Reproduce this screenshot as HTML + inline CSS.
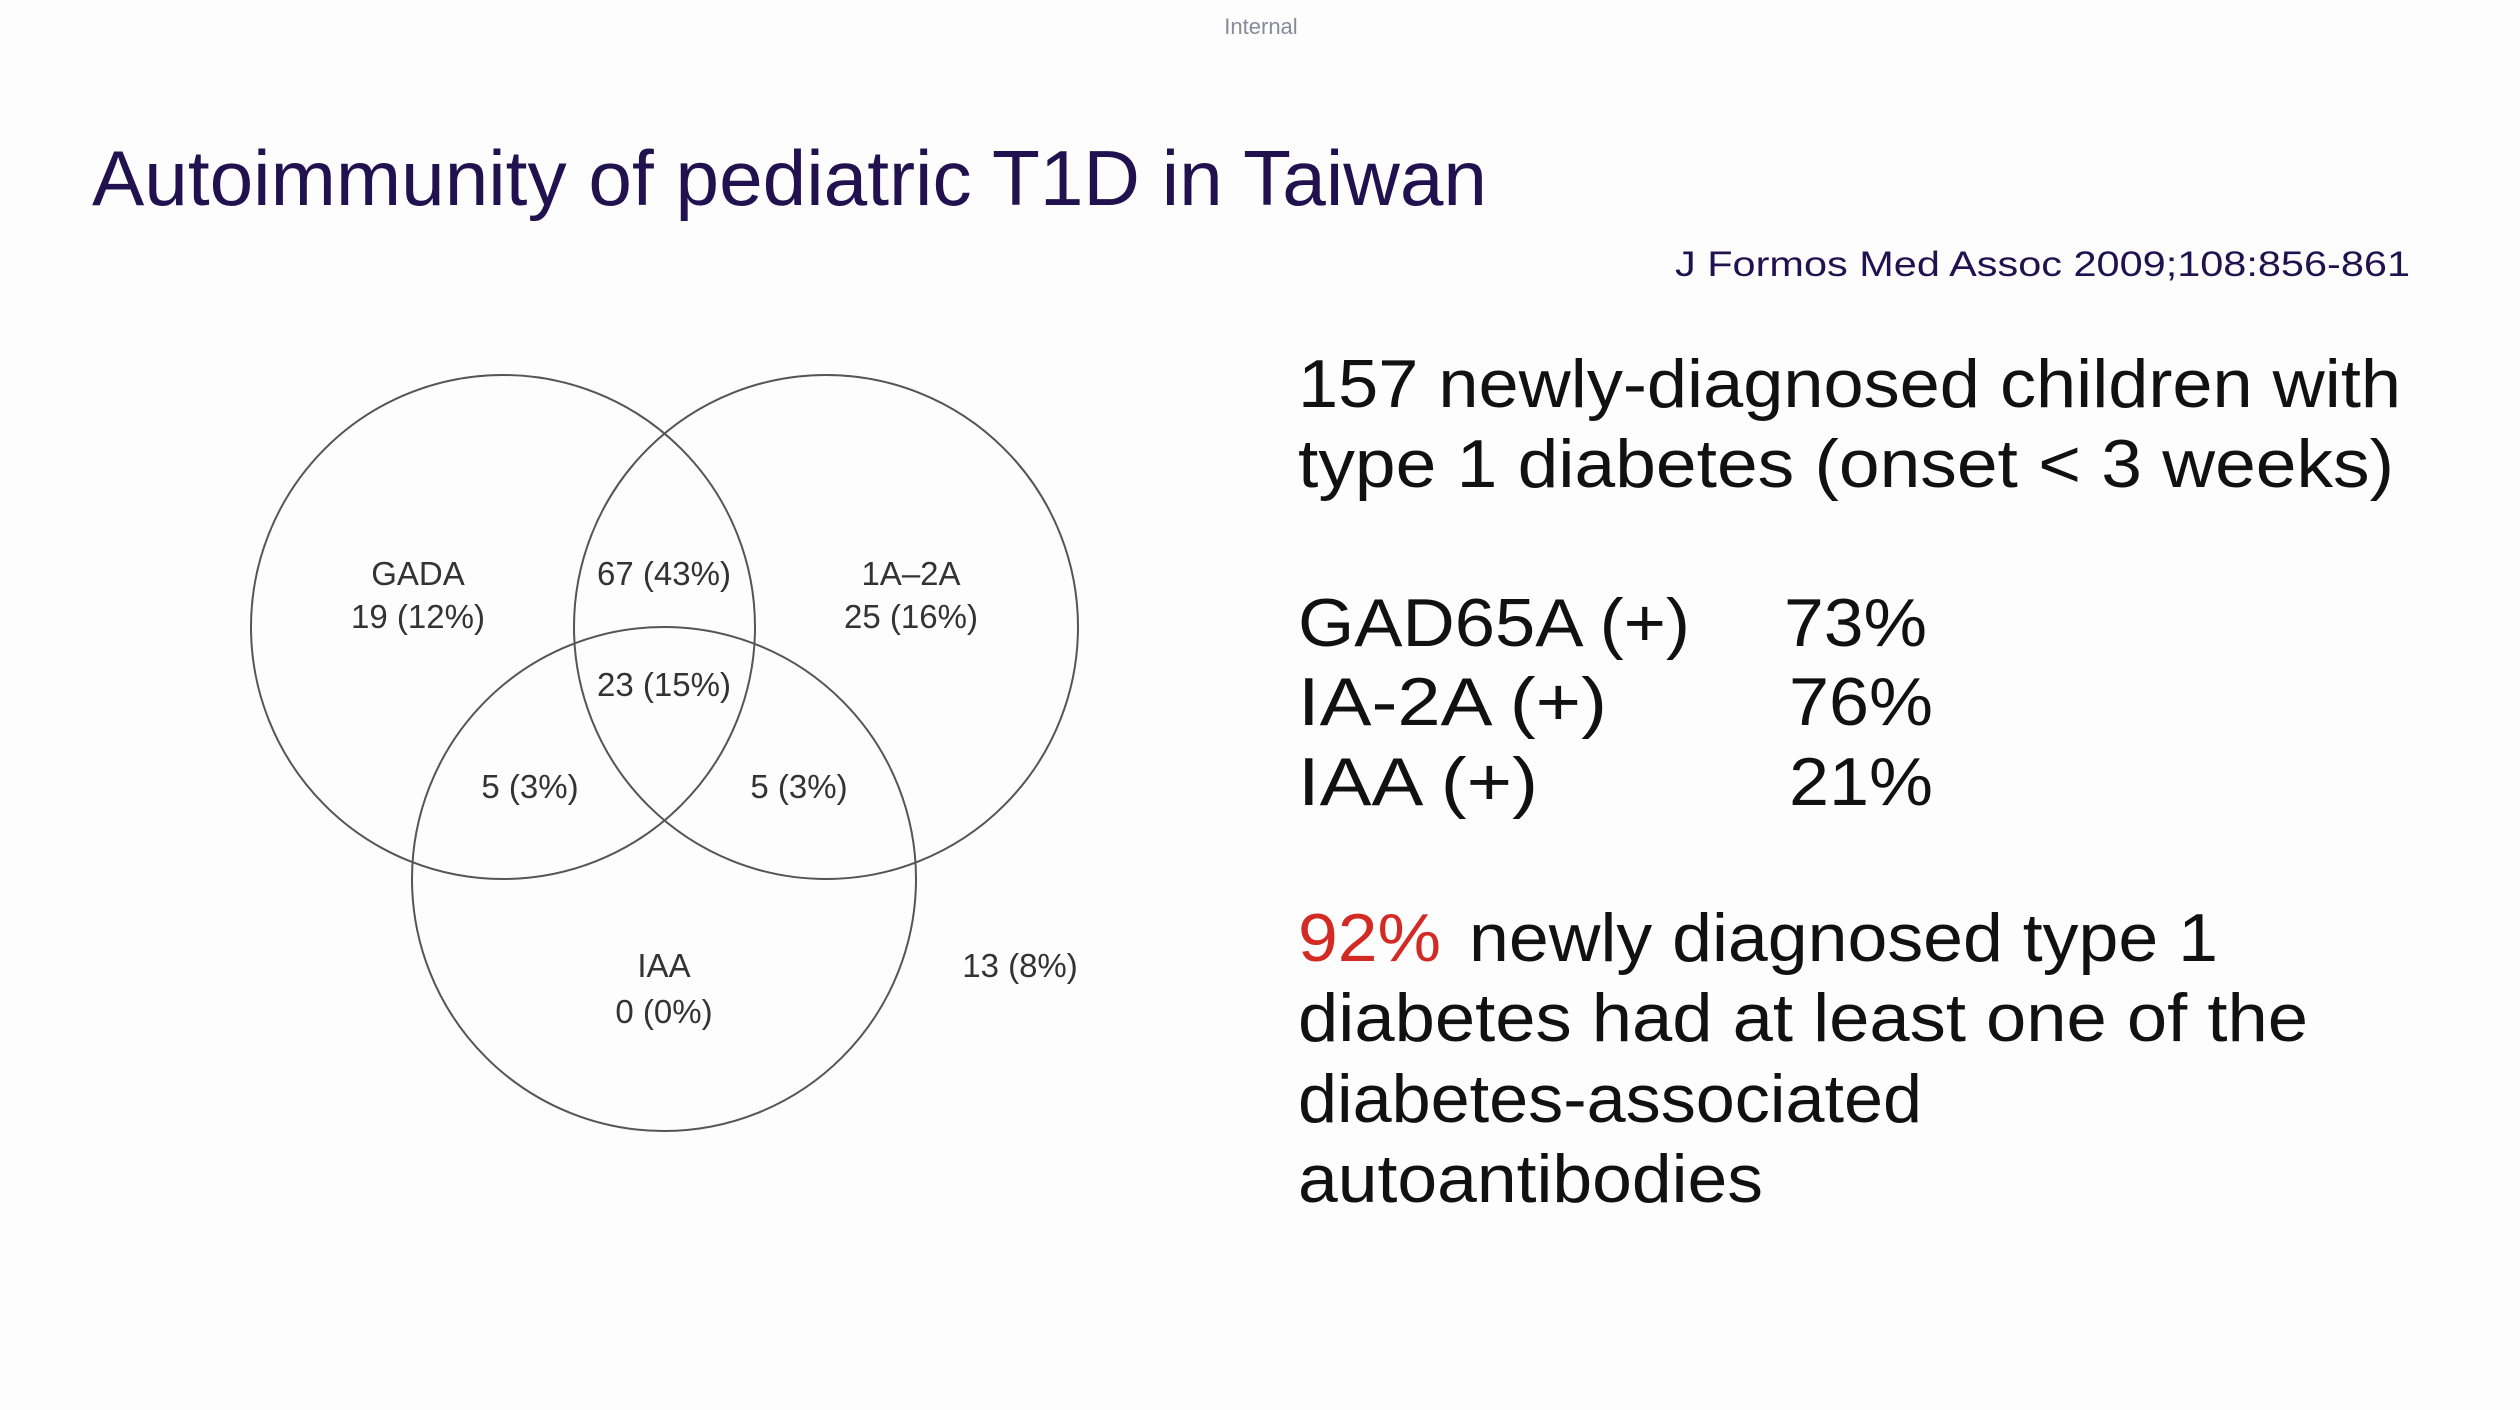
<!DOCTYPE html>
<html><head><meta charset="utf-8"><style>
html,body{margin:0;padding:0;background:#fdfdfd;}
svg{display:block;font-family:"Liberation Sans",sans-serif;}
</style></head><body>
<svg width="2520" height="1410" viewBox="0 0 2520 1410" xmlns="http://www.w3.org/2000/svg">
<rect width="2520" height="1410" fill="#fdfdfd"/>
<text x="1261" y="34" font-size="22" fill="#8a8a9a" text-anchor="middle">Internal</text>
<text x="92" y="205" font-size="78" fill="#21124f" textLength="1395" lengthAdjust="spacingAndGlyphs">Autoimmunity of pediatric T1D in Taiwan</text>
<text x="1675" y="276" font-size="35" fill="#21124f" textLength="735" lengthAdjust="spacingAndGlyphs">J Formos Med Assoc 2009;108:856-861</text>

<g fill="none" stroke="#555" stroke-width="2">
<circle cx="503" cy="627" r="252"/>
<circle cx="826" cy="627" r="252"/>
<circle cx="664" cy="879" r="252"/>
</g>
<g font-size="33" fill="#333" text-anchor="middle">
<text x="418" y="585">GADA</text>
<text x="418" y="628">19 (12%)</text>
<text x="664" y="585">67 (43%)</text>
<text x="911" y="585">1A–2A</text>
<text x="911" y="628">25 (16%)</text>
<text x="664" y="696">23 (15%)</text>
<text x="530" y="798">5 (3%)</text>
<text x="799" y="798">5 (3%)</text>
<text x="664" y="977">IAA</text>
<text x="664" y="1023">0 (0%)</text>
<text x="1020" y="977">13 (8%)</text>
</g>

<g font-size="68" fill="#111">
<text x="1298" y="407" textLength="1103" lengthAdjust="spacingAndGlyphs">157 newly-diagnosed children with</text>
<text x="1298" y="487" textLength="1096" lengthAdjust="spacingAndGlyphs">type 1 diabetes (onset &lt; 3 weeks)</text>
<text x="1298" y="646" textLength="392" lengthAdjust="spacingAndGlyphs">GAD65A (+)</text>
<text x="1784" y="646" textLength="143" lengthAdjust="spacingAndGlyphs">73%</text>
<text x="1298" y="725" textLength="309" lengthAdjust="spacingAndGlyphs">IA-2A (+)</text>
<text x="1789" y="725" textLength="144" lengthAdjust="spacingAndGlyphs">76%</text>
<text x="1298" y="805" textLength="240" lengthAdjust="spacingAndGlyphs">IAA (+)</text>
<text x="1789" y="805" textLength="144" lengthAdjust="spacingAndGlyphs">21%</text>
<text x="1298" y="961" fill="#d32a24" textLength="143" lengthAdjust="spacingAndGlyphs">92%</text>
<text x="1469" y="961" textLength="749" lengthAdjust="spacingAndGlyphs">newly diagnosed type 1</text>
<text x="1298" y="1041" textLength="1010" lengthAdjust="spacingAndGlyphs">diabetes had at least one of the</text>
<text x="1298" y="1122" textLength="624" lengthAdjust="spacingAndGlyphs">diabetes-associated</text>
<text x="1298" y="1202" textLength="465" lengthAdjust="spacingAndGlyphs">autoantibodies</text>
</g>
</svg>
</body></html>
